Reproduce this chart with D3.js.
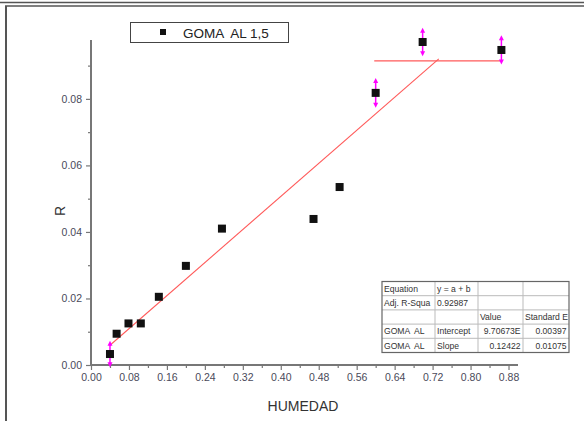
<!DOCTYPE html>
<html><head><meta charset="utf-8">
<script src="https://cdn.jsdelivr.net/npm/d3@7"></script>
<style>body{margin:0;background:#fff}svg{display:block}text{font-family:Arial,"Liberation Sans",sans-serif;white-space:pre}</style>
</head><body>
<svg id="c" width="584" height="421"></svg>
<script>
const humedad = [0.040, 0.054, 0.079, 0.105, 0.143, 0.200, 0.276, 0.469, 0.524, 0.600, 0.699, 0.865];
const rValues = [0.0033, 0.0094, 0.0125, 0.0125, 0.0205, 0.0298, 0.0410, 0.0439, 0.0535, 0.0818, 0.0971, 0.0947];
const rErrors = [0.0040, null, null, null, null, null, null, null, null, 0.0045, 0.0043, 0.0044];
const xTicks = [0.00, 0.08, 0.16, 0.24, 0.32, 0.40, 0.48, 0.56, 0.64, 0.72, 0.80, 0.88];
const yTicks = [0.00, 0.02, 0.04, 0.06, 0.08];
const fitIntercept = 9.70673e-4, fitSlope = 0.12422;
const fitRange = [0.04, 0.733];
const plateauY = 0.0914, plateauRange = [0.597, 0.865];
const legendLabel = "GOMA  AL 1,5";
const tableRows = [
  ["Equation", "y = a + b", "", ""],
  ["Adj. R-Squa", "0.92987", "", ""],
  ["", "", "Value", "Standard Err"],
  ["GOMA  AL", "Intercept", "9.70673E", "0.00397"],
  ["GOMA  AL", "Slope", "0.12422", "0.01075"]
];

const svg = d3.select("#c");
const x = d3.scaleLinear().domain([0, 0.9]).range([91, 518]);
const y = d3.scaleLinear().domain([0, 0.0977]).range([365, 40]);

// frame
svg.append("line").attr("x1",0).attr("x2",584).attr("y1",2.5).attr("y2",2.5).attr("stroke","#555").attr("stroke-width",1.5);
svg.append("line").attr("x1",5).attr("x2",584).attr("y1",6).attr("y2",6).attr("stroke","#555").attr("stroke-width",1.5);
svg.append("line").attr("x1",6).attr("x2",6).attr("y1",6).attr("y2",421).attr("stroke","#555").attr("stroke-width",2);

const axisColor = "#777", labColor = "#4a4a5a";
// x axis
const xAx = svg.append("g").attr("transform","translate(0,365)")
  .call(d3.axisBottom(x).tickValues(xTicks).tickFormat(d3.format(".2f")).tickSize(5).tickPadding(4));
xAx.select(".domain").attr("d", `M${x(0)},0H${x(0.9)}`);
svg.append("g").attr("transform","translate(0,365)")
  .call(d3.axisBottom(x).tickValues(d3.range(0.04,0.9,0.08)).tickFormat("").tickSize(3))
  .select(".domain").remove();
// y axis
const yAx = svg.append("g").attr("transform","translate(91,0)")
  .call(d3.axisLeft(y).tickValues(yTicks).tickFormat(d3.format(".2f")).tickSize(5).tickPadding(4));
yAx.select(".domain").attr("d", `M0,${y(0)}V${y(0.0977)}`);
svg.append("g").attr("transform","translate(91,0)")
  .call(d3.axisLeft(y).tickValues([0.01,0.03,0.05,0.07,0.09]).tickFormat("").tickSize(3))
  .select(".domain").remove();
svg.selectAll(".domain").attr("stroke",axisColor).attr("stroke-width",2);
svg.selectAll(".tick line").attr("stroke",axisColor).attr("stroke-width",1.2);
svg.selectAll(".tick text").attr("fill",labColor).attr("font-size",10.5).attr("font-family","Arial, 'Liberation Sans', sans-serif");

// axis titles
svg.append("text").attr("x",303).attr("y",411).attr("text-anchor","middle").attr("font-size",14).attr("fill","#333").text("HUMEDAD");
svg.append("text").attr("transform","translate(65,211) rotate(-90)").attr("text-anchor","middle").attr("font-size",14).attr("fill","#333").text("R");

// fit lines
svg.append("line").attr("x1",x(fitRange[0])).attr("x2",x(fitRange[1]))
  .attr("y1",y(fitIntercept+fitSlope*fitRange[0])).attr("y2",y(fitIntercept+fitSlope*fitRange[1]))
  .attr("stroke","#ff5a5a").attr("stroke-width",1.1);
svg.append("line").attr("x1",x(plateauRange[0])).attr("x2",x(plateauRange[1]))
  .attr("y1",y(plateauY)).attr("y2",y(plateauY))
  .attr("stroke","#ff5a5a").attr("stroke-width",1.3);

// error bars (double arrows)
const data = humedad.map((h,i)=>({x:h,y:rValues[i],e:rErrors[i]}));
const eb = svg.append("g");
data.filter(d=>d.e!=null).forEach(d=>{
  const cx=x(d.x), y1=y(d.y+d.e), y2=y(d.y-d.e);
  eb.append("line").attr("x1",cx).attr("x2",cx).attr("y1",y1+3).attr("y2",y2-3).attr("stroke","#ff00ff").attr("stroke-width",1.5);
  eb.append("path").attr("d",`M${cx-2.5},${y1+5}L${cx},${y1}L${cx+2.5},${y1+5}Z`).attr("fill","#ff00ff");
  eb.append("path").attr("d",`M${cx-2.5},${y2-5}L${cx},${y2}L${cx+2.5},${y2-5}Z`).attr("fill","#ff00ff");
});

// points
svg.append("g").selectAll("rect").data(data).join("rect")
  .attr("x",d=>x(d.x)-4).attr("y",d=>y(d.y)-4).attr("width",8).attr("height",8).attr("fill","#111");

// legend
svg.append("rect").attr("x",130.5).attr("y",22.5).attr("width",158).attr("height",20).attr("fill","#fff").attr("stroke","#444").attr("stroke-width",1);
svg.append("rect").attr("x",160).attr("y",29).attr("width",6).attr("height",6).attr("fill","#111");
svg.append("text").attr("x",183).attr("y",38).attr("font-size",13.5).attr("fill","#222").attr("xml:space","preserve").text(legendLabel);

// table
const colX = [382, 435, 478, 523, 569];
const rowH = 14.2, tTop = 281.5;
const tg = svg.append("g");
const defs = svg.append("defs");
tg.append("rect").attr("x",colX[0]).attr("y",tTop).attr("width",colX[4]-colX[0]).attr("height",rowH*5).attr("fill","#fff");
for(let c=0;c<4;c++){
  defs.append("clipPath").attr("id","cc"+c).append("rect")
    .attr("x",colX[c]).attr("y",tTop).attr("width",colX[c+1]-colX[c]-1).attr("height",rowH*5);
}
tableRows.forEach((row,r)=>{
  row.forEach((cell,c)=>{
    const numeric = (r>=3 && c>=2);
    tg.append("text").attr("x", numeric ? colX[c+1]-2.5 : colX[c]+2)
      .attr("y", tTop + rowH*r + 10.3)
      .attr("text-anchor", numeric ? "end" : "start")
      .attr("clip-path","url(#cc"+c+")")
      .attr("font-size",8.6).attr("fill","#333").text(cell);
  });
});
for(let r=1;r<5;r++) tg.append("line").attr("x1",colX[0]).attr("x2",colX[4]).attr("y1",tTop+rowH*r).attr("y2",tTop+rowH*r).attr("stroke","#bbb");
for(let c=1;c<4;c++) tg.append("line").attr("x1",colX[c]).attr("x2",colX[c]).attr("y1",tTop).attr("y2",tTop+rowH*5).attr("stroke","#bbb");
tg.append("rect").attr("x",colX[0]).attr("y",tTop).attr("width",colX[4]-colX[0]).attr("height",rowH*5).attr("fill","none").attr("stroke","#666").attr("stroke-width",1.2);
</script>
</body></html>
